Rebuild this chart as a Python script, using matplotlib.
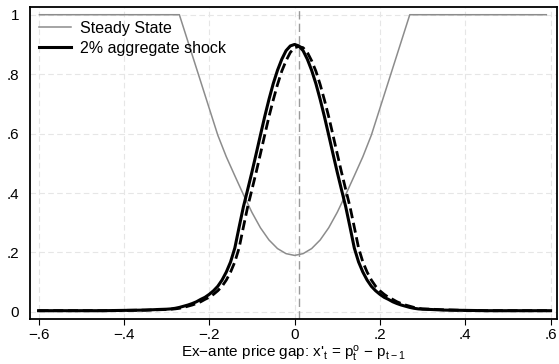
import numpy as np
import matplotlib.pyplot as plt
from matplotlib.ticker import FixedLocator

plt.rcParams['font.family'] = ['Liberation Sans', 'DejaVu Sans']
plt.rcParams['mathtext.default'] = 'regular'

# price gap grid for the shock densities: tails plus a 0.01 grid in the middle
gap_left_tail = [-0.6, -0.5, -0.45, -0.4, -0.35, -0.32]
gap_mid = np.round(np.linspace(-0.3, 0.3, 61), 2)
gap_right_tail = [0.32, 0.35, 0.4, 0.45, 0.5, 0.6]
gap = np.concatenate([gap_left_tail, gap_mid, gap_right_tail])

# 2% aggregate shock, solid
shock_solid = [0.004, 0.004, 0.004, 0.005, 0.006, 0.008,
               0.009, 0.010, 0.012, 0.015, 0.019, 0.023, 0.028, 0.034, 0.042, 0.049,
               0.059, 0.071, 0.086, 0.107, 0.134, 0.168, 0.215, 0.285, 0.353, 0.411,
               0.470, 0.532, 0.595, 0.657, 0.715, 0.768, 0.813, 0.850, 0.879, 0.895,
               0.900,
               0.895, 0.879, 0.850, 0.813, 0.768, 0.715, 0.657, 0.595, 0.532, 0.470,
               0.411, 0.353, 0.285, 0.215, 0.168, 0.134, 0.107, 0.086, 0.071, 0.059,
               0.049, 0.042, 0.034, 0.028, 0.023, 0.019, 0.015, 0.012, 0.010, 0.009,
               0.008, 0.006, 0.005, 0.004, 0.004, 0.004]

# 2% aggregate shock, dashed
shock_dashed = [0.004, 0.004, 0.004, 0.005, 0.006, 0.007,
                0.008, 0.009, 0.010, 0.012, 0.015, 0.019, 0.023, 0.028, 0.034, 0.042,
                0.049, 0.059, 0.071, 0.086, 0.107, 0.134, 0.168, 0.215, 0.285, 0.353,
                0.411, 0.470, 0.532, 0.595, 0.657, 0.713, 0.765, 0.810, 0.845, 0.873,
                0.889, 0.893,
                0.889, 0.873, 0.845, 0.810, 0.765, 0.713, 0.657, 0.595, 0.532, 0.470,
                0.411, 0.353, 0.285, 0.215, 0.168, 0.134, 0.107, 0.086, 0.071, 0.059,
                0.049, 0.042, 0.034, 0.028, 0.023, 0.019, 0.015, 0.012, 0.010,
                0.009, 0.007, 0.005, 0.004, 0.004, 0.004]

# steady state hazard
ss_gap = [-0.598, -0.27, -0.26, -0.24, -0.22, -0.2, -0.18, -0.16, -0.14, -0.12,
          -0.1, -0.08, -0.06, -0.04, -0.02, 0.0, 0.02, 0.04, 0.06, 0.08, 0.1,
          0.12, 0.14, 0.16, 0.18, 0.2, 0.22, 0.24, 0.26, 0.27, 0.59]
ss_val = [1.0, 1.0, 0.955, 0.865, 0.775, 0.685, 0.595, 0.522, 0.458, 0.395,
          0.335, 0.283, 0.242, 0.213, 0.196, 0.19, 0.196, 0.213, 0.242, 0.283,
          0.335, 0.395, 0.458, 0.522, 0.595, 0.685, 0.775, 0.865, 0.955, 1.0, 1.0]

shock_line = 0.01

xticks = [-0.6, -0.4, -0.2, 0, 0.2, 0.4, 0.6]
xlabels = ['\u2212.6', '\u2212.4', '\u2212.2', '0', '.2', '.4', '.6']
yticks = [0, 0.2, 0.4, 0.6, 0.8, 1]
ylabels = ['0', '.2', '.4', '.6', '.8', '1']

fig = plt.figure(figsize=(5.59, 3.64), dpi=100)
ax = fig.add_axes([0.0537, 0.1228, 0.9427, 0.8588])

ax.axvline(shock_line, color='#9a9a9a', lw=1.0, dashes=(6, 3), zorder=1)
ax.plot(ss_gap, ss_val, color='#8c8c8c', lw=1.1, label='Steady State', zorder=3)
ax.plot(gap, shock_solid, color='black', lw=2.2, label='2% aggregate shock', zorder=4)
ax.plot(gap, shock_dashed, color='black', lw=2.0, dashes=(3.6, 1.7), zorder=4)

ax.set_xlim(-0.62, 0.615)
ax.set_ylim(-0.025, 1.027)
ax.xaxis.set_major_locator(FixedLocator(xticks))
ax.yaxis.set_major_locator(FixedLocator(yticks))
ax.set_xticklabels(xlabels, fontsize=11)
ax.set_yticklabels(ylabels, fontsize=11)
ax.tick_params(axis='x', length=4, width=0.8, pad=2)
ax.tick_params(axis='y', length=0, pad=8)
ax.grid(True, color='#e6e6e6', lw=0.8, dashes=(5, 3))
ax.set_axisbelow(True)
for s in ax.spines.values():
    s.set_linewidth(1.3)

ax.set_xlabel("Ex\u2212ante price gap: x'$_t$ = p$_t^o$ \u2212 p$_{t\u22121}$",
              fontsize=11, labelpad=2)

ax.legend(loc='upper left', bbox_to_anchor=(0.0, 0.983), frameon=False,
          fontsize=11.5, handlelength=2.0, handletextpad=0.6,
          borderaxespad=0.15, labelspacing=0.33)

fig.savefig('out.png', dpi=100)
